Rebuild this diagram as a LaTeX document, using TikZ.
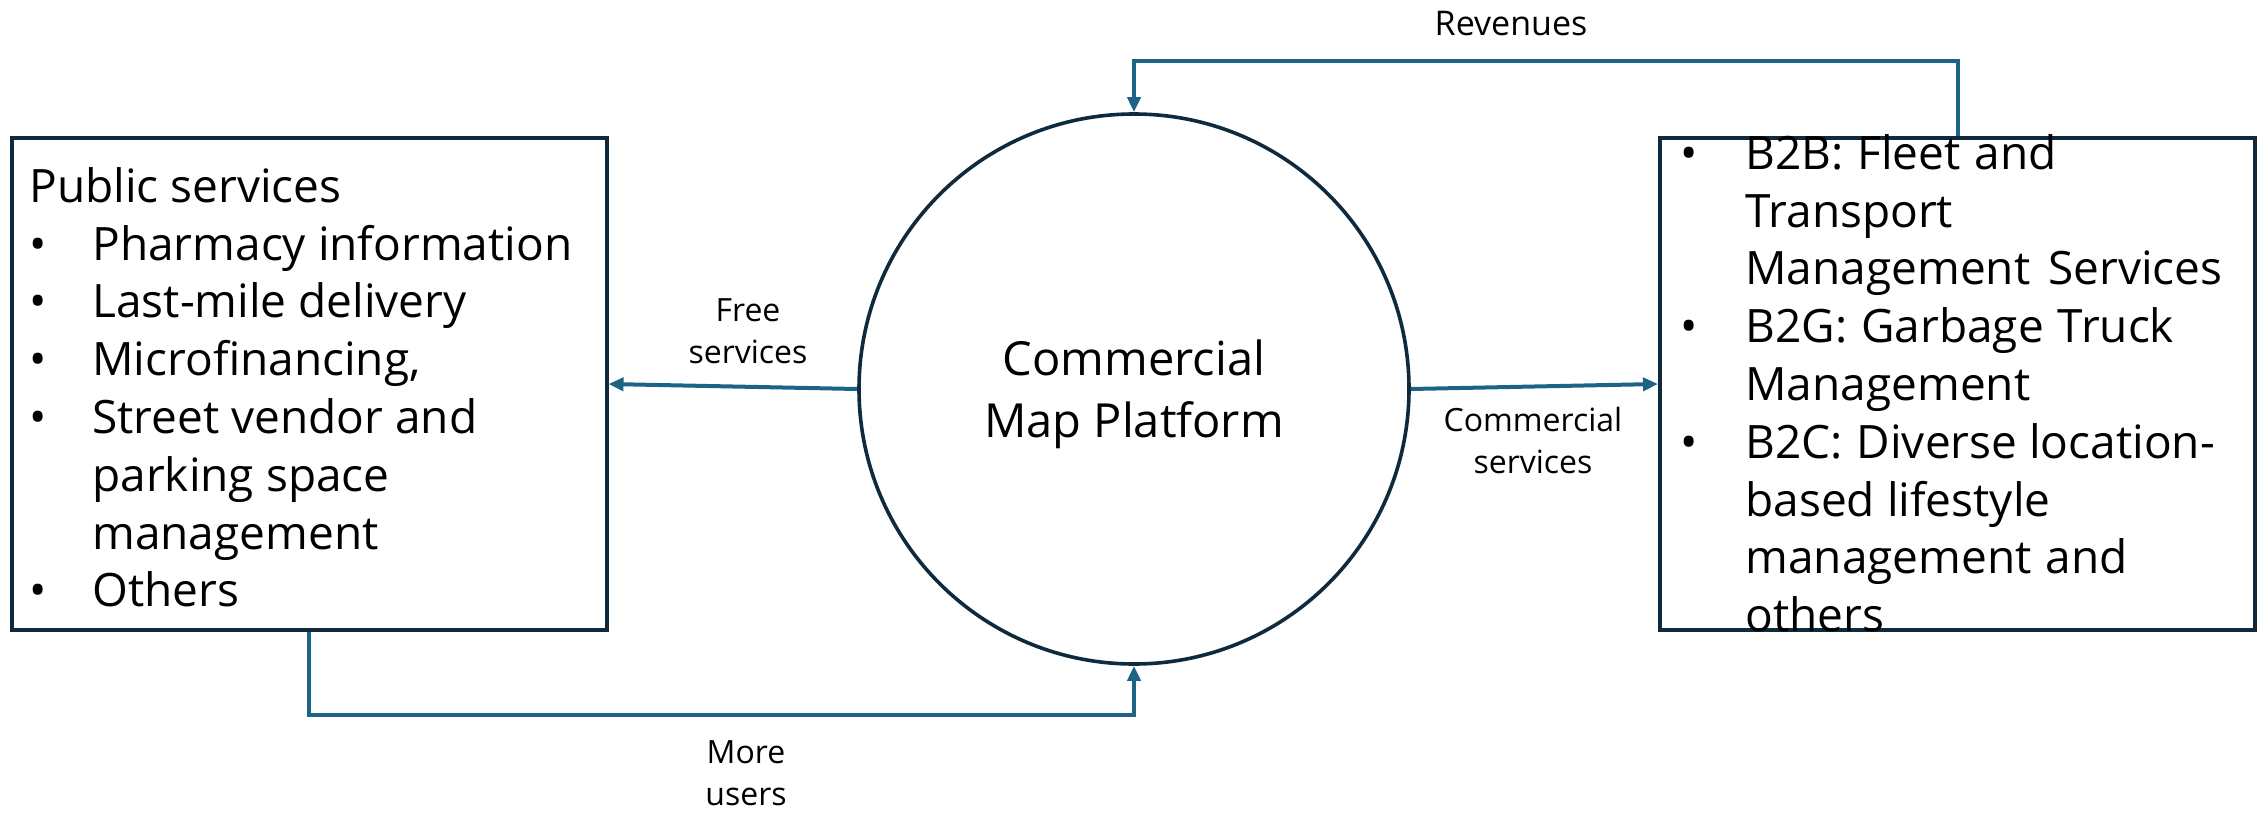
\documentclass[tikz,border=0pt]{standalone}
\usepackage{fontspec}
\setmainfont{Open Sans}
\usetikzlibrary{arrows.meta}
\definecolor{boxc}{HTML}{0F2A3C}
\definecolor{arrc}{HTML}{1D6385}
\newcommand{\lb}{\makebox[31.5pt][l]{•}}
\newcommand{\li}{\hspace*{31.5pt}}
\newcommand{\rb}{\makebox[32.5pt][l]{•}}
\newcommand{\ri}{\hspace*{32.5pt}}
\begin{document}
\begin{tikzpicture}[x=0.5pt,y=-0.5pt,
  boxshape/.style={draw=boxc, line width=2pt, minimum width=297.5pt, minimum height=246pt, inner sep=0pt},
  circshape/.style={circle, draw=boxc, line width=1.8pt, minimum size=275pt, inner sep=0pt},
  bigtext/.style={align=left, inner sep=0pt, font=\fontsize{23}{28.9}\selectfont},
  lbl/.style={align=center, inner sep=0pt, font=\fontsize{16}{21}\selectfont},
  arr/.style={draw=arrc, line width=2pt, -{Triangle[length=7.5pt,width=6.5pt]}}]
\useasboundingbox (0,0) rectangle (2259,813);
\node[boxshape] (L) at (309,384) {};
\node[boxshape] (R) at (1957.5,384) {};
\node[circshape] (C) at (1134,389) {};
\node[align=center, inner sep=0pt, font=\fontsize{23.5}{31}\selectfont] (ct) at (1134,394) {Commercial\\Map Platform};
\node[bigtext, anchor=north west] (lt) at (29,167) {Public services\\
\lb Pharmacy information\\
\lb Last-mile delivery\\
\lb Microfinancing,\\
\lb Street vendor and\\
\li parking space\\
\li management\\
\lb Others};
\node[bigtext, anchor=north west] (rt) at (1680,134) {\rb B2B:\hspace{7pt}Fleet\hspace{7pt}and\\
\ri Transport\\
\ri Management\hspace{9pt}Services\\
\rb B2G:\hspace{7pt}Garbage\hspace{7pt}Truck\\
\ri Management\\
\rb B2C:\hspace{7pt}Diverse location-\\
\ri based lifestyle\\
\ri management\hspace{7pt}and\\
\ri others};
\draw[arr] (C.west) -- (L.east);
\draw[arr] (C.east) -- (R.west);
\draw[arr] (R.north) -- ++(0,-75) -| (C.north);
\draw[arr] (L.south) -- ++(0,83) -| (C.south);
\node[lbl] (fs) at (748,331) {Free\\services};
\node[lbl] (cs) at (1533,440) {Commercial\\services};
\node[lbl, font=\fontsize{17}{21}\selectfont] (rv) at (1511,24) {Revenues};
\node[lbl] (mu) at (746,773) {More\\users};
\end{tikzpicture}
\end{document}
